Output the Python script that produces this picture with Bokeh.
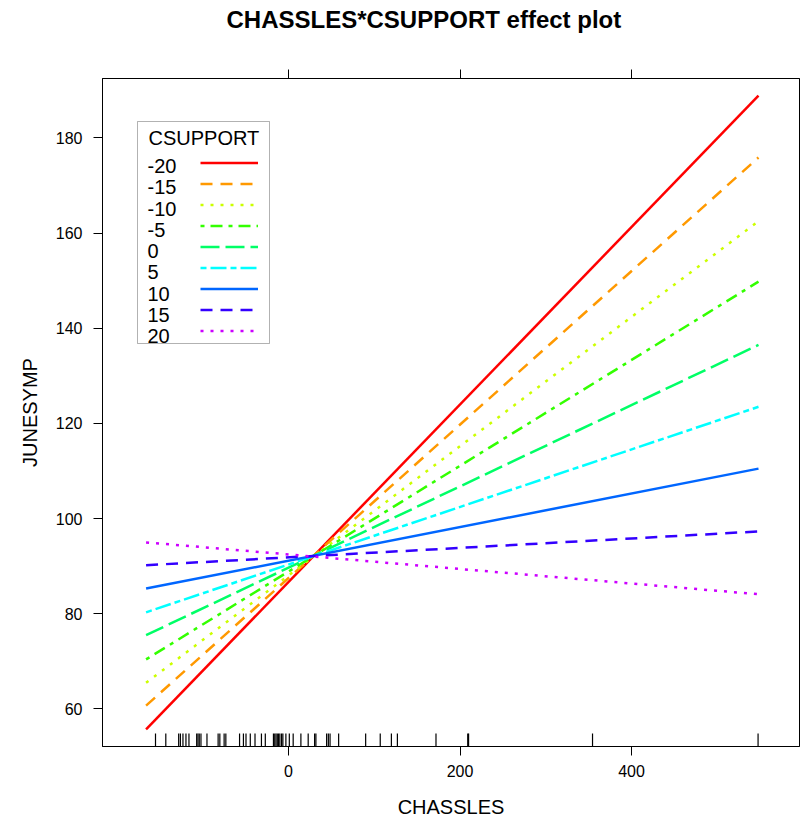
from bokeh.plotting import figure
from bokeh.models import (Range1d, FixedTicker, LinearAxis, Label, Legend, LegendItem,
                          BoxAnnotation)
from bokeh.embed import file_html
from bokeh.resources import INLINE

# ---- data ----
chassles_range = [-166, 548]
csupport = [-20, -15, -10, -5, 0, 5, 10, 15, 20]
junesymp_at_min = [55.7, 60.7, 65.5, 70.4, 75.5, 80.3, 85.3, 90.2, 95.0]
junesymp_at_max = [188.9, 175.9, 162.5, 149.8, 136.5, 123.5, 110.5, 97.3, 84.1]
rug_chassles = [-155, -143, -128, -126, -123, -119.5, -116, -107, -105.5, -104, -102,
                -95, -82, -80, -75, -73, -57, -52.5, -49.5, -44.5, -39, -31.5, -27,
                -17.5, -16, -14.5, -13, -11.5, -10, -8, -6.5, -3, 1, 5.5, 14.5, 23,
                30.5, 32, 44.5, 46.5, 48.5, 58.5, 90, 107, 120, 127, 172, 209, 210,
                354.5, 547.5]
x_ticks = [0, 200, 400]
y_ticks = [60, 80, 100, 120, 140, 160, 180]

colors = ["#FF0000", "#FF9900", "#CCFF00", "#33FF00", "#00FF66",
          "#00FFFF", "#0066FF", "#3300FF", "#CC00FF"]
dashes = ["solid", "12 8", "3 7", "4 6 12 6", "19 6", "6 4 16 4", "solid", "12 8", "3 7"]

FONT = "Liberation Sans"

p = figure(width=800, height=820, output_backend="svg", toolbar_location=None,
           x_range=Range1d(-216.8, 595.8), y_range=Range1d(52.1, 192.5),
           min_border_left=102, min_border_right=1, min_border_top=77, min_border_bottom=73,
           x_axis_label="CHASSLES", y_axis_label="JUNESYMP",
           title="CHASSLES*CSUPPORT effect plot")
p.background_fill_color = "white"
p.border_fill_color = "white"
p.outline_line_color = "black"
p.outline_line_width = 1
p.xgrid.visible = False
p.ygrid.visible = False

p.title.text_font = FONT
p.title.text_font_style = "bold"
p.title.text_font_size = "24px"
p.title.text_color = "black"
p.title.align = "left"
p.title.offset = 124
p.title.standoff = 7

def style_axis(ax):
    ax.axis_line_color = "black"
    ax.major_tick_line_color = "black"
    ax.major_tick_in = 0
    ax.major_tick_out = 9
    ax.minor_tick_line_color = None
    ax.major_label_text_font = FONT
    ax.major_label_text_font_size = "16px"
    ax.major_label_text_color = "black"
    ax.axis_label_text_font = FONT
    ax.axis_label_text_font_size = "20px"
    ax.axis_label_text_font_style = "normal"
    ax.axis_label_text_color = "black"

for ax in p.xaxis:
    ax.ticker = FixedTicker(ticks=x_ticks)
    style_axis(ax)
    ax.major_label_standoff = 9
    ax.axis_label_standoff = 16
for ax in p.yaxis:
    ax.ticker = FixedTicker(ticks=y_ticks)
    style_axis(ax)
    ax.major_label_standoff = 11
    ax.axis_label_standoff = 12

# top axis: ticks only; its blank label only keeps the title clear of the frame
top_ax = LinearAxis(ticker=FixedTicker(ticks=x_ticks), axis_label="\u00a0")
style_axis(top_ax)
top_ax.major_label_overrides = {t: "" for t in x_ticks}
top_ax.major_label_standoff = 0
top_ax.axis_label_standoff = 8
p.add_layout(top_ax, "above")

# ---- effect lines ----
renderers = []
for cs, y0, y1, c, d in zip(csupport, junesymp_at_min, junesymp_at_max, colors, dashes):
    r = p.line(x=chassles_range, y=[y0, y1], line_color=c, line_width=2.5, line_dash=d)
    renderers.append((str(cs), r))

# ---- rug ----
rug_len = 2.73
p.segment(x0=rug_chassles, x1=rug_chassles,
          y0=[p.y_range.start] * len(rug_chassles),
          y1=[p.y_range.start + rug_len] * len(rug_chassles),
          line_color="black", line_width=1.2)

# ---- legend (label left, line sample right) ----
p.add_layout(BoxAnnotation(left=35, right=167, top=625, bottom=403,
                           left_units="screen", right_units="screen",
                           top_units="screen", bottom_units="screen",
                           fill_color="white", fill_alpha=1.0,
                           line_color="black", line_width=1, level="overlay"))
p.add_layout(Label(x=46, y=609, x_units="screen", y_units="screen", text="CSUPPORT",
                   text_font=FONT, text_font_size="20px", text_baseline="middle",
                   text_color="black", level="overlay"))
for i, (lab, r) in enumerate(renderers):
    p.add_layout(Label(x=45, y=580.3 - 21.25 * i, x_units="screen", y_units="screen",
                       text=lab, text_font=FONT, text_font_size="20px",
                       text_baseline="middle", text_color="black", level="overlay"))

legend = Legend(items=[LegendItem(label=" ", renderers=[r]) for lab, r in renderers],
                location=(98, 405), padding=0, margin=0, spacing=0,
                glyph_width=58, glyph_height=21, label_height=21, label_width=1,
                label_standoff=0, label_text_font_size="10px",
                border_line_color=None, background_fill_alpha=0.0)
p.add_layout(legend, "center")

open("out.html", "w").write(file_html(p, INLINE))
